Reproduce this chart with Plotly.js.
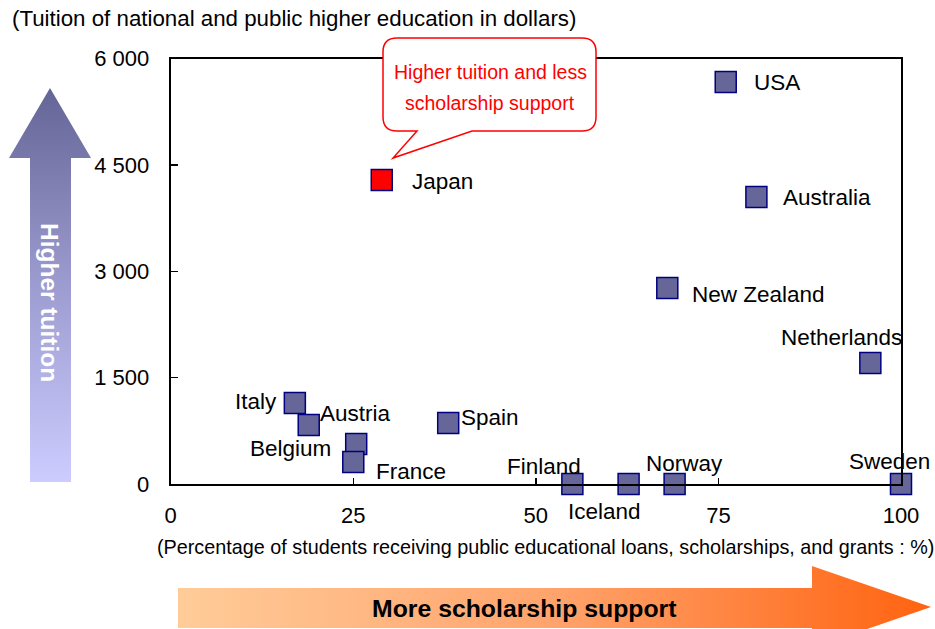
<!DOCTYPE html>
<html>
<head>
<meta charset="utf-8">
<script src="https://cdn.plot.ly/plotly-3.0.1.min.js"></script>
<style>html,body{margin:0;padding:0;background:#fff;}#chart{width:935px;height:629px;}</style>
</head>
<body>
<div id="chart"></div>
<script>
// ---- data ----
const countries = ['USA','Japan','Australia','New Zealand','Netherlands','Italy','Austria','Spain','Belgium','France','Finland','Iceland','Norway','Sweden'];
const pctAid   = [76.0, 28.9, 80.2, 68.0, 95.8, 17.0, 18.9, 38.0, 25.4, 25.0, 55.0, 62.7, 69.0, 100];
const tuition  = [5670, 4290, 4050, 2766, 1707, 1143, 832, 861, 564, 310, 0, 0, 0, 0];
const xTickVals = [0, 25, 50, 75, 100];
const xTickText = ['0', '25', '50', '75', '100'];
const yTickVals = [0, 1500, 3000, 4500, 6000];
const yTickText = ['0', '1 500', '3 000', '4 500', '6 000'];
const yTitle = '(Tuition of national and public higher education in dollars)';
const xTitle = '(Percentage of students receiving public educational loans, scholarships, and grants : %)';
const calloutLines = ['Higher tuition and less', 'scholarship support'];
const upArrowText = 'Higher tuition';
const rightArrowText = 'More scholarship support';
const highlight = 'Japan';

// ---- styles ----
const FONT = 'Arial, "Liberation Sans", sans-serif';
const labelStyle = {
  'USA':         {anchor:'left',   dx:26,  dy:0},
  'Japan':       {anchor:'left',   dx:28,  dy:-2},
  'Australia':   {anchor:'left',   dx:25,  dy:-1},
  'New Zealand': {anchor:'left',   dx:23,  dy:-7},
  'Netherlands': {anchor:'center', dx:-29, dy:26},
  'Italy':       {anchor:'right',  dx:-16, dy:1},
  'Austria':     {anchor:'left',   dx:9,   dy:12},
  'Spain':       {anchor:'left',   dx:11,  dy:5},
  'Belgium':     {anchor:'right',  dx:-23, dy:-4},
  'France':      {anchor:'left',   dx:21,  dy:-9},
  'Finland':     {anchor:'center', dx:-28, dy:18},
  'Iceland':     {anchor:'center', dx:-24, dy:-27},
  'Norway':      {anchor:'center', dx:10,  dy:21},
  'Sweden':      {anchor:'center', dx:-12, dy:23}
};

const W = 935, H = 629;
const plotL = 170.7, plotR = 901, plotT = 58.7, plotB = 484;

const traces = [];

// decorative arrows (pixel coordinate overlay axes)
traces.push({
  x: [50, 91, 71, 71, 30, 30, 9, 50],
  y: [88, 158, 158, 482, 482, 158, 158, 88],
  xaxis: 'x2', yaxis: 'y2', mode: 'lines', fill: 'toself',
  line: {width: 0, color: 'rgba(0,0,0,0)'},
  fillgradient: {type: 'vertical', start: 88, stop: 482,
    colorscale: [[0, '#646496'], [0.5, '#9c9cd0'], [1, '#ccccff']]},
  hoverinfo: 'skip', showlegend: false
});
traces.push({
  x: [178, 812, 812, 931, 812, 812, 178, 178],
  y: [588, 588, 566, 607, 648, 628, 628, 588],
  xaxis: 'x2', yaxis: 'y2', mode: 'lines', fill: 'toself',
  line: {width: 0, color: 'rgba(0,0,0,0)'},
  fillgradient: {type: 'horizontal', start: 178, stop: 931,
    colorscale: [[0, '#ffcc99'], [0.5, '#ffa36c'], [1, '#ff6310']]},
  hoverinfo: 'skip', showlegend: false
});

// main scatter
traces.push({
  x: pctAid, y: tuition, text: countries,
  mode: 'markers', type: 'scatter', cliponaxis: false,
  marker: {symbol: 'square', size: 21,
    color: countries.map(c => c === highlight ? '#ff0000' : '#666699'),
    line: {color: '#000080', width: 1.5}},
  hoverinfo: 'text', showlegend: false
});

const annotations = countries.map((c, i) => ({
  x: pctAid[i], y: tuition[i], xref: 'x', yref: 'y',
  text: c, showarrow: false,
  xanchor: labelStyle[c].anchor, yanchor: 'middle',
  xshift: labelStyle[c].dx, yshift: labelStyle[c].dy,
  font: {family: FONT, size: 22.5, color: '#000'}
}));

annotations.push({x: 10, y: 18, xref: 'x2', yref: 'y2', text: yTitle, showarrow: false,
  xanchor: 'left', yanchor: 'middle', font: {family: FONT, size: 22.3, color: '#000'}});
annotations.push({x: 545, y: 547, xref: 'x2', yref: 'y2', text: xTitle, showarrow: false,
  xanchor: 'center', yanchor: 'middle', font: {family: FONT, size: 19.8, color: '#000'}});
annotations.push({x: 490, y: 72, xref: 'x2', yref: 'y2', text: calloutLines[0], showarrow: false,
  xanchor: 'center', yanchor: 'middle', font: {family: FONT, size: 19.5, color: '#ff0000'}});
annotations.push({x: 490, y: 103, xref: 'x2', yref: 'y2', text: calloutLines[1], showarrow: false,
  xanchor: 'center', yanchor: 'middle', font: {family: FONT, size: 19.5, color: '#ff0000'}});
annotations.push({x: 50, y: 302, xref: 'x2', yref: 'y2', text: '<b>' + upArrowText + '</b>', showarrow: false,
  textangle: 90, xanchor: 'center', yanchor: 'middle', font: {family: FONT, size: 24.5, color: '#ffffff'}});
annotations.push({x: 524, y: 608, xref: 'x2', yref: 'y2', text: '<b>' + rightArrowText + '</b>', showarrow: false,
  xanchor: 'center', yanchor: 'middle', font: {family: FONT, size: 24.8, color: '#000000'}});

const callout = 'M397,38 L582,38 Q596,38 596,52 L596,117 Q596,131 582,131 L472,131 L393,158 L417,131 L397,131 Q383,131 383,117 L383,52 Q383,38 397,38 Z';

const layout = {
  width: W, height: H,
  margin: {l: 0, r: 0, t: 0, b: 0, pad: 0},
  paper_bgcolor: '#ffffff', plot_bgcolor: 'rgba(0,0,0,0)',
  showlegend: false,
  font: {family: FONT, color: '#000'},
  xaxis: {
    domain: [plotL / W, plotR / W], range: [0, 100], anchor: 'y',
    showgrid: false, zeroline: false, showline: true, linecolor: '#000', linewidth: 2, mirror: true,
    ticks: 'inside', ticklen: 6, tickwidth: 1.5, tickcolor: '#000',
    tickmode: 'array', tickvals: xTickVals, ticktext: xTickText,
    tickfont: {family: FONT, size: 22, color: '#000'}, ticklabelstandoff: 11
  },
  yaxis: {
    domain: [(H - plotB) / H, (H - plotT) / H], range: [0, 6000], anchor: 'x',
    showgrid: false, zeroline: false, showline: true, linecolor: '#000', linewidth: 2, mirror: true,
    ticks: 'inside', ticklen: 7, tickwidth: 1.5, tickcolor: '#000',
    tickmode: 'array', tickvals: yTickVals, ticktext: yTickText,
    tickfont: {family: FONT, size: 22, color: '#000'}, ticklabelstandoff: 15
  },
  xaxis2: {domain: [0, 1], range: [0, W], anchor: 'y2', visible: false, fixedrange: true},
  yaxis2: {domain: [0, 1], range: [H, 0], anchor: 'x2', visible: false, fixedrange: true},
  shapes: [{type: 'path', path: callout, xref: 'x2', yref: 'y2', layer: 'above',
    line: {color: '#ff0000', width: 1.5}, fillcolor: '#ffffff'}],
  annotations: annotations
};

Plotly.newPlot('chart', traces, layout, {displayModeBar: false, staticPlot: true});
</script>
</body>
</html>
